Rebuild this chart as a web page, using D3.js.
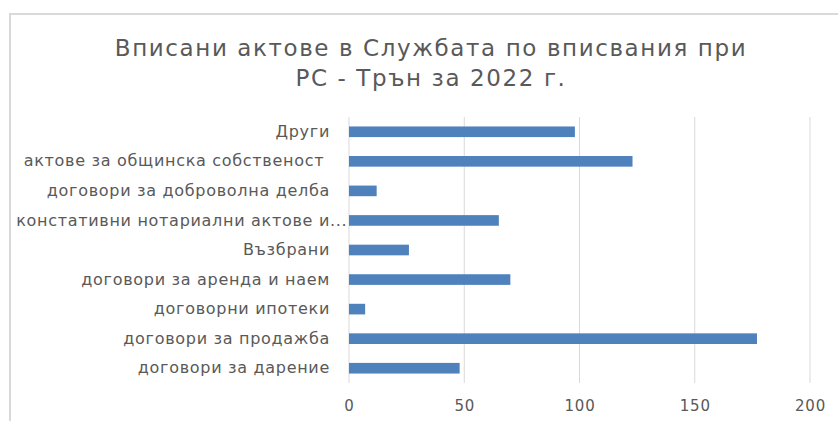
<!DOCTYPE html>
<html>
<head>
<meta charset="utf-8">
<script src="https://cdn.jsdelivr.net/npm/d3@7"></script>
<style>
  body { margin: 0; background: #fff; }
  text { font-family: "DejaVu Sans", "Noto Sans", sans-serif; fill: #595959; }
</style>
</head>
<body>
<div id="chart"></div>
<script>
let svgWidth = 838;
let svgHeight = 421;

// Data, top to bottom as drawn
let categories = [
  "Други",
  "актове за общинска собственост ",
  "договори за доброволна делба",
  "констативни нотариални актове и...",
  "Възбрани",
  "договори за аренда и наем",
  "договорни ипотеки",
  "договори за продажба",
  "договори за дарение"
];
let values = [98, 123, 12, 65, 26, 70, 7, 177, 48];
let xTicks = [0, 50, 100, 150, 200];
let titleLines = ["Вписани актове в Службата по вписвания при", "РС - Трън за 2022 г."];

let margin = { top: 117, right: 28, bottom: 38, left: 349 };
let width = 810 - margin.left;
let height = 383 - margin.top;

let svg = d3.select("#chart")
  .append("svg")
  .attr("width", svgWidth)
  .attr("height", svgHeight);

// chart frame (runs off the right and bottom edge)
svg.append("rect")
  .attr("x", 10)
  .attr("y", 14)
  .attr("width", 900)
  .attr("height", 500)
  .attr("fill", "none")
  .attr("stroke", "#d9d9d9")
  .attr("stroke-width", 2);

// title
svg.append("text")
  .attr("text-anchor", "middle")
  .attr("font-size", 23)
  .attr("letter-spacing", 1.6)
  .attr("fill", "#5f5f5f")
  .selectAll("tspan")
  .data(titleLines)
  .enter()
  .append("tspan")
  .attr("x", 431)
  .attr("y", (d, i) => 56 + i * 30)
  .text(d => d);

let chartGroup = svg.append("g")
  .attr("transform", `translate(${margin.left}, ${margin.top})`);

let xScale = d3.scaleLinear()
  .domain([0, 200])
  .range([0, width]);

let yScale = d3.scaleBand()
  .domain(categories)
  .range([0, height])
  .paddingInner(0.64)
  .paddingOuter(0.32);

// gridlines
chartGroup.selectAll(".grid")
  .data(xTicks)
  .enter()
  .append("line")
  .attr("x1", d => xScale(d))
  .attr("x2", d => xScale(d))
  .attr("y1", 0)
  .attr("y2", height)
  .attr("stroke", "#d9d9d9")
  .attr("stroke-width", 1);

// bars
chartGroup.selectAll(".bar")
  .data(values)
  .enter()
  .append("rect")
  .attr("x", 0)
  .attr("y", (d, i) => yScale(categories[i]))
  .attr("width", d => xScale(d))
  .attr("height", yScale.bandwidth())
  .attr("fill", "#4f81bd");

// x axis labels
let xAxis = d3.axisBottom(xScale).tickValues(xTicks).tickSize(0).tickPadding(17);
let xg = chartGroup.append("g")
  .attr("transform", `translate(0, ${height})`)
  .call(xAxis);
xg.select(".domain").remove();
xg.selectAll("text")
  .attr("font-size", 15)
  .attr("letter-spacing", 0.8)
  .attr("fill", "#595959")
  .style("font-family", "'DejaVu Sans', sans-serif");

// y axis labels
let yAxis = d3.axisLeft(yScale).tickSize(0).tickPadding(19);
let yg = chartGroup.append("g").call(yAxis);
yg.select(".domain").remove();
yg.selectAll("text")
  .attr("font-size", 16)
  .attr("letter-spacing", 0.7)
  .attr("fill", "#595959")
  .style("font-family", "'DejaVu Sans', sans-serif")
  .style("white-space", "pre");

// truncated label: let the "..." hang past the other labels, as Excel does
yg.selectAll("text")
  .filter(d => d.endsWith("..."))
  .each(function(d) {
    let full = this.getComputedTextLength();
    let t = d3.select(this);
    t.text(d.slice(0, -3));
    let shortLen = this.getComputedTextLength();
    t.text(d).attr("dx", full - shortLen);
  });
</script>
</body>
</html>
